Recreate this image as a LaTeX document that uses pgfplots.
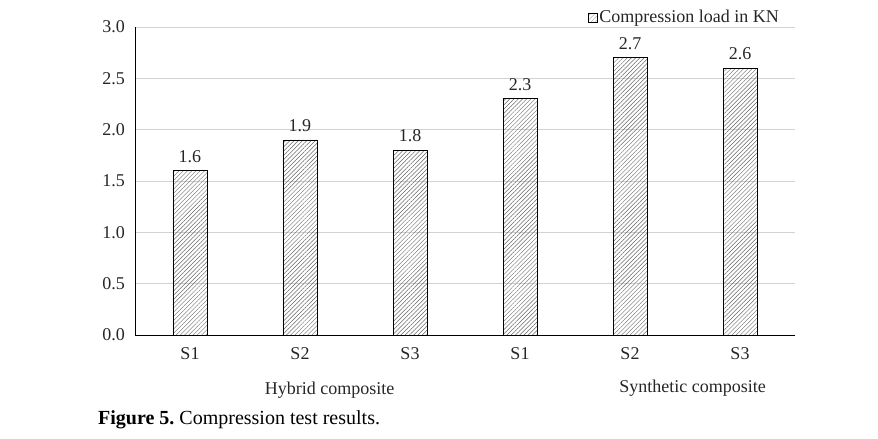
\documentclass[border=0pt]{standalone}
\usepackage{pgfplots}
\pgfplotsset{compat=1.18}
\usepackage{fontspec}
\setmainfont{Liberation Serif}
\usetikzlibrary{patterns.meta}
\definecolor{txt}{HTML}{262626}
\begin{document}
\fontsize{18pt}{21pt}\selectfont
\begin{tikzpicture}
\begin{axis}[
  scale only axis,
  width=660pt, height=308pt,
  ymin=0, ymax=3, ytick={0,0.5,...,3.0},
  xmin=-0.5, xmax=5.5,
  xtick=data,
  xticklabels={S1,S2,S3,S1,S2,S3},
  axis x line*=bottom, axis y line*=left,
  axis line style={black, line width=0.9pt},
  major tick length=0pt,
  ymajorgrids, grid style={gray!35, line width=0.6pt},
  yticklabel style={/pgf/number format/fixed,/pgf/number format/precision=1,/pgf/number format/fixed zerofill, text=txt, xshift=-4pt},
  /pgf/number format/assume math mode=true,
  xticklabel style={text=txt, yshift=-6pt},
  tick label style={font=\fontsize{18pt}{21pt}\selectfont},
  ybar, bar width=34pt,
  nodes near coords,
  nodes near coords style={/pgf/number format/fixed,/pgf/number format/precision=1,/pgf/number format/fixed zerofill, font=\fontsize{18pt}{21pt}\selectfont, text=txt, yshift=2pt},
  clip=false,
  legend style={at={(0.686,1.03)}, anchor=west, draw=none, fill=none, inner sep=0pt, font=\fontsize{18pt}{21pt}\selectfont, text=txt, legend cell align=left},
  legend image code/.code={\draw[pattern={Lines[angle=45,distance=3pt,line width=0.4pt]}, pattern color=gray!70, line width=0.5pt] (0pt,-4.5pt) rectangle (9pt,4.5pt);},
]
\addplot[draw=black, line width=0.8pt, pattern={Lines[angle=45,distance=3pt,line width=0.45pt]}, pattern color=black!60] coordinates {(0,1.6) (1,1.9) (2,1.8) (3,2.3) (4,2.7) (5,2.6)};
\addlegendentry{Compression load in KN}
\node[text=txt, font=\fontsize{18pt}{21pt}\selectfont] at (axis cs:1.27,0) [yshift=-55pt] {Hybrid composite};
\node[text=txt, font=\fontsize{18pt}{21pt}\selectfont] at (axis cs:4.57,0) [yshift=-53pt] {Synthetic composite};
\node[anchor=west, font=\fontsize{20pt}{23pt}\selectfont] at (axis cs:-0.5,0) [xshift=-43pt, yshift=-85pt] {\textbf{Figure 5.}\ Compression test results.};
\end{axis}
\path (-135pt,-104pt) rectangle (743pt,335pt);
\end{tikzpicture}
\end{document}
